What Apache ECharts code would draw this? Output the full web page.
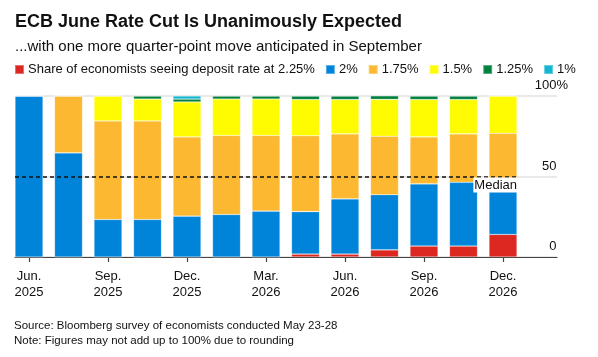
<!DOCTYPE html>
<html>
<head>
<meta charset="utf-8">
<script src="https://cdn.jsdelivr.net/npm/echarts@6/dist/echarts.min.js"></script>
<style>
html,body{margin:0;padding:0;background:#fff;}
#chart{width:598px;height:357px;}
</style>
</head>
<body>
<div id="chart"></div>
<script>
// ECB meeting dates (one bar each)
const categories = ['Jun. 2025','Jul. 2025','Sep. 2025','Oct. 2025','Dec. 2025','Feb. 2026','Mar. 2026','Apr. 2026','Jun. 2026','Jul. 2026','Sep. 2026','Oct. 2026','Dec. 2026'];
const labeledIndices = [0, 2, 4, 6, 8, 10, 12];
const yTicks = [0, 50, 100];

// Share of economists (%) seeing deposit rate at each level
const rate225 = [0, 0, 0, 0, 0, 0, 0, 1.8, 1.8, 4.4, 6.8, 6.8, 14.0];
const rate200 = [100, 64.7, 23.3, 23.3, 25.4, 26.4, 28.5, 26.4, 34.3, 34.3, 38.6, 39.6, 34.9];
const rate175 = [0, 35.3, 61.2, 61.2, 49.2, 49.1, 47.0, 47.1, 40.4, 36.3, 29.2, 30.1, 28.0];
const rate150 = [0, 0, 15.5, 13.6, 21.7, 22.6, 22.6, 22.5, 21.3, 22.9, 23.2, 21.3, 23.1];
const rate125 = [0, 0, 0, 1.9, 1.8, 1.9, 1.9, 2.2, 2.2, 2.2, 2.2, 2.2, 0];
const rate100 = [0, 0, 0, 0, 1.9, 0, 0, 0, 0, 0, 0, 0, 0];
const medianValue = 50;

const seriesNames = ['Share of economists seeing deposit rate at 2.25%', '2%', '1.75%', '1.5%', '1.25%', '1%'];
const seriesData = [rate225, rate200, rate175, rate150, rate125, rate100];
const colors = ['#dc2820', '#0084d9', '#fbb830', '#fffb00', '#00803e', '#14b7d3'];

const FONT = 'Liberation Sans, Arial, sans-serif';
const BAR_PX = 28, STEP_PX = 39.5;
const PLOT_LEFT = 15, PLOT_RIGHT = 41, PLOT_TOP = 96, PLOT_BOTTOM = 100;
const PLOT_W = 598 - PLOT_LEFT - PLOT_RIGHT;
const half = (BAR_PX / 2) / STEP_PX;          // half bar width in index units
const xMin = -half;
const xMax = xMin + PLOT_W / STEP_PX;
// band grid for the bars: first band centred on bar 0's centre
const barGridLeft = PLOT_LEFT + BAR_PX / 2 - STEP_PX / 2;
const barGridWidth = STEP_PX * categories.length;

const chart = echarts.init(document.getElementById('chart'), null, {renderer: 'canvas'});

const series = seriesNames.map((name, k) => ({
  name: name,
  type: 'bar',
  stack: 'all',
  xAxisIndex: 1,
  yAxisIndex: 1,
  barWidth: BAR_PX,
  itemStyle: {color: colors[k], borderColor: 'rgba(255,255,255,0.35)', borderWidth: 0.6},
  emphasis: {disabled: true},
  data: seriesData[k]
}));

series.push({
  name: 'median',
  type: 'line',
  xAxisIndex: 0,
  yAxisIndex: 0,
  data: [],
  silent: true,
  z: 10,
  markLine: {
    silent: true,
    symbol: ['none', 'none'],
    lineStyle: {type: [4, 3], color: '#111', width: 1.5},
    label: {
      show: true,
      position: 'insideEndBottom',
      formatter: 'Median',
      color: '#111',
      fontFamily: FONT,
      fontSize: 13,
      backgroundColor: '#fff',
      padding: [1, 0, 1, 1],
      distance: [0, 1]
    },
    data: [[{coord: [xMin, medianValue]}, {coord: [categories.length - 1 + half, medianValue]}]]
  }
});

chart.setOption({
  animation: false,
  textStyle: {fontFamily: FONT},
  title: {
    text: 'ECB June Rate Cut Is Unanimously Expected',
    subtext: '...with one more quarter-point move anticipated in September',
    left: 10,
    top: 6,
    itemGap: 5,
    textStyle: {fontFamily: FONT, fontSize: 18, fontWeight: 'bold', color: '#111', lineHeight: 22},
    subtextStyle: {fontFamily: FONT, fontSize: 15, color: '#111', lineHeight: 18}
  },
  legend: {
    left: 9,
    top: 58,
    icon: 'rect',
    itemWidth: 9,
    itemHeight: 9,
    itemGap: 10,
    selectedMode: false,
    textStyle: {fontFamily: FONT, fontSize: 13, color: '#111', padding: [0, 0, 0, -1]},
    data: seriesNames
  },
  grid: [
    {left: PLOT_LEFT, right: PLOT_RIGHT, top: PLOT_TOP, bottom: PLOT_BOTTOM, containLabel: false},
    {left: barGridLeft, width: barGridWidth, top: PLOT_TOP, bottom: PLOT_BOTTOM, containLabel: false}
  ],
  xAxis: [{
    type: 'value',
    gridIndex: 0,
    min: xMin,
    max: xMax,
    splitLine: {show: false},
    axisLine: {show: true, onZero: false, lineStyle: {color: '#444', width: 1.2}},
    axisTick: {show: true, customValues: labeledIndices, length: 5, lineStyle: {color: '#444', width: 1.2}},
    axisLabel: {
      customValues: labeledIndices,
      formatter: v => categories[Math.round(v)].replace(' ', '\n'),
      fontFamily: FONT,
      fontSize: 13,
      lineHeight: 16,
      color: '#111',
      margin: 11
    }
  }, {
    type: 'category',
    gridIndex: 1,
    data: categories,
    show: false
  }],
  yAxis: [{
    type: 'value',
    gridIndex: 0,
    position: 'right',
    min: 0,
    max: 100,
    interval: 50,
    axisLine: {show: false},
    axisTick: {show: false},
    splitLine: {lineStyle: {color: '#e2e2e2', width: 1.5}},
    axisLabel: {
      inside: true,
      margin: -11,
      verticalAlign: 'bottom',
      padding: [0, 0, 4, 0],
      fontFamily: FONT,
      fontSize: 13,
      color: '#111',
      formatter: v => v === yTicks[yTicks.length - 1] ? v + '{p|%}' : v + '{h|%}',
      rich: {
        p: {fontFamily: FONT, fontSize: 13, color: '#111'},
        h: {fontFamily: FONT, fontSize: 13, color: 'rgba(0,0,0,0)'}
      }
    }
  }, {
    type: 'value',
    gridIndex: 1,
    min: 0,
    max: 100,
    show: false,
    splitLine: {show: false}
  }],
  graphic: [
    {type: 'text', left: 14, top: 320, style: {text: 'Source: Bloomberg survey of economists conducted May 23-28', fontFamily: FONT, fontSize: 11.5, fill: '#111'}},
    {type: 'text', left: 14, top: 335, style: {text: 'Note: Figures may not add up to 100% due to rounding', fontFamily: FONT, fontSize: 11.5, fill: '#111'}}
  ],
  series: series
});
</script>
</body>
</html>
